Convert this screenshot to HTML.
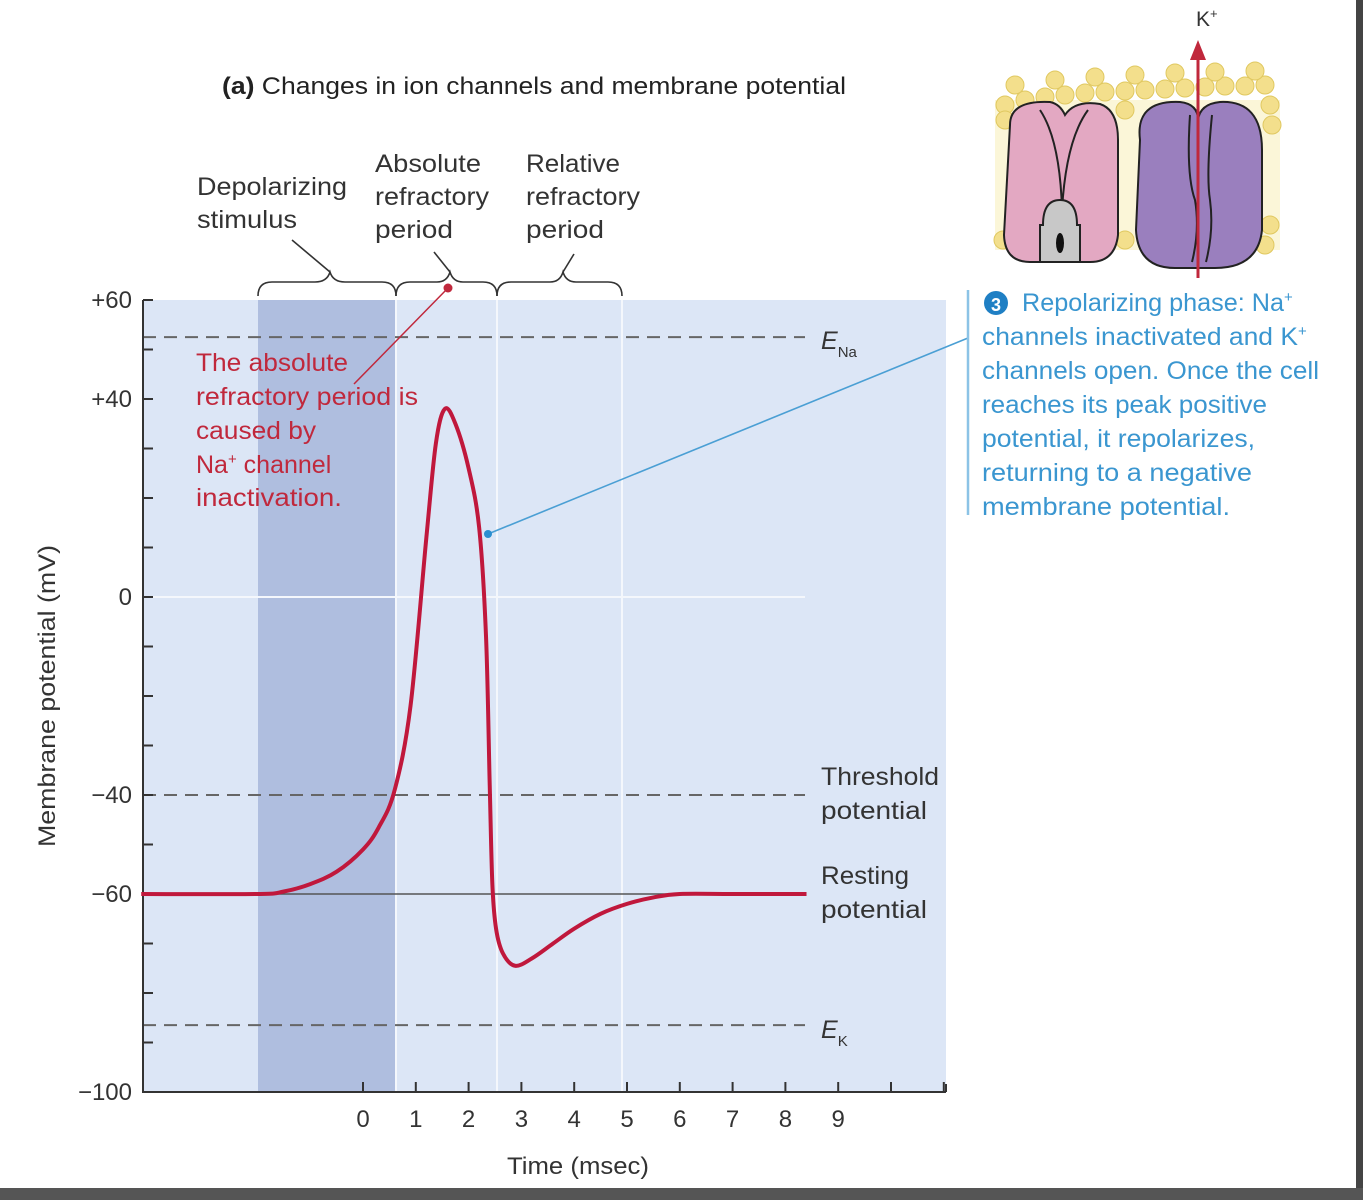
<!DOCTYPE html>
<html><head><meta charset="utf-8"><style>
html,body{margin:0;padding:0;background:#fff;}
svg{display:block;font-family:"Liberation Sans",sans-serif;}
</style></head><body>
<svg width="1363" height="1200" viewBox="0 0 1363 1200">
<rect x="0" y="0" width="1363" height="1200" fill="#fff"/>
<rect x="0" y="1188" width="1363" height="12" fill="#555"/>
<rect x="1356" y="0" width="7" height="1188" fill="#444"/>
<text x="222" y="94" font-size="24" fill="#222" textLength="624" lengthAdjust="spacingAndGlyphs"><tspan font-weight="bold">(a)</tspan> Changes in ion channels and membrane potential</text>
<g id="plot"></g>
<g id="ann">
 <g font-size="25" fill="#333">
  <text x="197" y="195"><tspan x="197" textLength="150" lengthAdjust="spacingAndGlyphs">Depolarizing</tspan><tspan x="197" dy="33" textLength="100" lengthAdjust="spacingAndGlyphs">stimulus</tspan></text>
  <text x="375" y="172"><tspan x="375" textLength="106" lengthAdjust="spacingAndGlyphs">Absolute</tspan><tspan x="375" dy="33" textLength="114" lengthAdjust="spacingAndGlyphs">refractory</tspan><tspan x="375" dy="33" textLength="78" lengthAdjust="spacingAndGlyphs">period</tspan></text>
  <text x="526" y="172"><tspan x="526" textLength="94" lengthAdjust="spacingAndGlyphs">Relative</tspan><tspan x="526" dy="33" textLength="114" lengthAdjust="spacingAndGlyphs">refractory</tspan><tspan x="526" dy="33" textLength="78" lengthAdjust="spacingAndGlyphs">period</tspan></text>
 </g>
 <g fill="none" stroke="#333" stroke-width="1.6">
  <path d="M258 296 Q258 282 272 282 L315 282 Q327 282 330 272 Q333 282 345 282 L382 282 Q396 282 396 296"/>
  <path d="M396 296 Q396 282 410 282 L437 282 Q447 282 450 272 Q453 282 463 282 L483 282 Q497 282 497 296"/>
  <path d="M497 296 Q497 282 511 282 L550 282 Q560 282 563 272 Q566 282 576 282 L608 282 Q622 282 622 296"/>
  <path d="M330 272 L292 240"/>
  <path d="M450 272 L434 252"/>
  <path d="M563 272 L574 254"/>
 </g>
 <g font-size="25" fill="#c0283c">
  <text x="196" y="371" textLength="152" lengthAdjust="spacingAndGlyphs">The absolute</text>
  <text x="196" y="405" textLength="222" lengthAdjust="spacingAndGlyphs">refractory period is</text>
  <text x="196" y="439" textLength="120" lengthAdjust="spacingAndGlyphs">caused by</text>
  <text x="196" y="473">Na<tspan font-size="15" dy="-9">+</tspan><tspan dy="9"> channel</tspan></text>
  <text x="196" y="506" textLength="146" lengthAdjust="spacingAndGlyphs">inactivation.</text>
 </g>
 <line x1="448" y1="288" x2="354" y2="384" stroke="#c0283c" stroke-width="1.5"/>
 <circle cx="448" cy="288" r="4.5" fill="#c0283c"/>
 <line x1="488" y1="534" x2="968" y2="338" stroke="#4a9fd4" stroke-width="1.6"/>
 <circle cx="488" cy="534" r="4" fill="#2a8fd0"/>
 <line x1="968" y1="290" x2="968" y2="515" stroke="#8cc3e6" stroke-width="2.5"/>
 <g font-size="25" fill="#3a96d0">
  <circle cx="996" cy="303" r="12" fill="#1f7fc4"/>
  <text x="996" y="311" font-size="18" font-weight="bold" fill="#fff" text-anchor="middle">3</text>
  <text x="1022" y="311"><tspan textLength="262" lengthAdjust="spacingAndGlyphs">Repolarizing phase: Na</tspan><tspan font-size="15" dy="-9">+</tspan></text>
  <text x="982" y="345"><tspan textLength="316" lengthAdjust="spacingAndGlyphs">channels inactivated and K</tspan><tspan font-size="15" dy="-9">+</tspan></text>
  <text x="982" y="379" textLength="337" lengthAdjust="spacingAndGlyphs">channels open. Once the cell</text>
  <text x="982" y="413" textLength="285" lengthAdjust="spacingAndGlyphs">reaches its peak positive</text>
  <text x="982" y="447" textLength="273" lengthAdjust="spacingAndGlyphs">potential, it repolarizes,</text>
  <text x="982" y="481" textLength="270" lengthAdjust="spacingAndGlyphs">returning to a negative</text>
  <text x="982" y="515" textLength="248" lengthAdjust="spacingAndGlyphs">membrane potential.</text>
 </g>
 <g>
  <rect x="995" y="100" width="285" height="150" fill="#fbf6d8"/>
  <g fill="#f3df8c" stroke="#e0c860" stroke-width="1">
   <circle cx="1005" cy="105" r="9"/><circle cx="1025" cy="100" r="9"/><circle cx="1045" cy="97" r="9"/><circle cx="1065" cy="95" r="9"/><circle cx="1085" cy="93" r="9"/><circle cx="1105" cy="92" r="9"/><circle cx="1125" cy="91" r="9"/><circle cx="1145" cy="90" r="9"/><circle cx="1165" cy="89" r="9"/><circle cx="1185" cy="88" r="9"/><circle cx="1205" cy="87" r="9"/><circle cx="1225" cy="86" r="9"/><circle cx="1245" cy="86" r="9"/><circle cx="1265" cy="85" r="9"/>
   <circle cx="1015" cy="85" r="9"/><circle cx="1055" cy="80" r="9"/><circle cx="1095" cy="77" r="9"/><circle cx="1135" cy="75" r="9"/><circle cx="1175" cy="73" r="9"/><circle cx="1215" cy="72" r="9"/><circle cx="1255" cy="71" r="9"/>
   <circle cx="1005" cy="120" r="9"/><circle cx="1125" cy="110" r="9"/><circle cx="1270" cy="105" r="9"/><circle cx="1272" cy="125" r="9"/>
   <circle cx="1003" cy="240" r="9"/><circle cx="1125" cy="240" r="9"/><circle cx="1270" cy="225" r="9"/><circle cx="1265" cy="245" r="9"/>
  </g>
  <path d="M1010 125 Q1010 100 1050 102 Q1060 104 1065 115 Q1075 100 1100 104 Q1118 110 1118 140 L1118 235 Q1115 262 1090 262 L1030 262 Q1005 262 1004 235 Z" fill="#e3a8c2" stroke="#222" stroke-width="2"/>
  <path d="M1040 110 Q1060 140 1062 210 M1088 110 Q1066 140 1062 210" fill="none" stroke="#222" stroke-width="2"/>
  <path d="M1043 225 Q1043 200 1060 200 Q1077 200 1077 225 L1080 225 L1080 262 L1040 262 L1040 225 Z" fill="#c8c8c8" stroke="#222" stroke-width="2"/>
  <ellipse cx="1060" cy="243" rx="4" ry="10" fill="#111"/>
  <path d="M1140 140 Q1135 100 1180 102 Q1198 104 1198 120 Q1200 104 1220 102 Q1262 100 1262 150 L1262 230 Q1258 268 1215 268 L1195 268 L1175 268 Q1138 268 1136 230 Z" fill="#9a7fbe" stroke="#222" stroke-width="2"/>
  <path d="M1190 115 Q1186 175 1195 200 Q1200 230 1192 262 M1212 115 Q1206 175 1210 200 Q1214 230 1206 262" fill="none" stroke="#222" stroke-width="2"/>
  <line x1="1198" y1="278" x2="1198" y2="52" stroke="#c0283c" stroke-width="3"/>
  <polygon points="1190,60 1198,40 1206,60" fill="#c0283c"/>
  <text x="1196" y="26" font-size="21" fill="#333">K<tspan font-size="13" dy="-8">+</tspan></text>
 </g>
</g>
</svg>
<script>
const categoriesTime = [-4.2,-2,-1.5,-1,-0.5,0,0.3,0.6,0.9,1.2,1.38,1.55,1.75,2.0,2.2,2.33,2.4,2.45,2.52,2.65,2.88,3.2,3.6,4.0,4.5,5.0,5.5,6.0,7.0,8.4];
const seriesPotential = [-60,-60,-59.5,-58,-55.5,-51,-46.5,-39,-22,12,31,38,35,26,14,-8,-38,-58,-67,-72,-74.5,-73,-70,-67,-64,-62,-60.7,-60,-60,-60];
const yTickLabels = ["+60","+40","0","\u221240","\u221260","\u2212100"];
const yTickValues = [60,40,0,-40,-60,-100];
const xTickLabels = ["0","1","2","3","4","5","6","7","8","9"];
const refLineNames = ["E_Na","threshold","resting","E_K"];
const refLineValues = [52.5,-40,-60,-86.5];
const NS="http://www.w3.org/2000/svg";
const X0=143,X1=946,Y0=300,Y1=1092;
function xs(t){return 363+t*52.8;}
function ys(v){return Y0+(60-v)*(Y1-Y0)/160;}
const g=document.getElementById('plot');
function mk(tag,attrs,parent){const e=document.createElementNS(NS,tag);for(const k in attrs)e.setAttribute(k,attrs[k]);(parent||g).appendChild(e);return e;}
let e;
e=mk('rect',{x:X0,y:Y0,width:X1-X0,height:Y1-Y0,fill:'#dce6f6'});


e=mk('rect',{x:258,y:Y0,width:138,height:Y1-Y0,fill:'#afbedf'});


[396,497,622].forEach(x=>{e=mk('line',{x1:x,y1:Y0,x2:x,y2:Y1,stroke:'#f4f7fc','stroke-width':2});

});
e=mk('line',{x1:153,y1:ys(0),x2:805,y2:ys(0),stroke:'#f4f7fc','stroke-width':2});


refLineNames.forEach((n,i)=>{const y=ys(refLineValues[i]);const solid=n==='resting';
e=mk('line',{x1:X0,y1:y,x2:805,y2:y,stroke:solid?'#555':'#666','stroke-width':solid?1.5:2,'stroke-dasharray':solid?'none':'13 8'});

});
e=mk('line',{x1:X0,y1:Y0,x2:X0,y2:Y1+1,stroke:'#333','stroke-width':2});


e=mk('line',{x1:X0,y1:Y1,x2:X1,y2:Y1,stroke:'#333','stroke-width':2});


e=mk('line',{x1:X1,y1:Y1,x2:X1,y2:Y1-8,stroke:'#333','stroke-width':2});
for(let v=60;v>=-100;v-=10){e=mk('line',{x1:X0,y1:ys(v),x2:X0+10,y2:ys(v),stroke:'#333','stroke-width':2});

}
yTickValues.forEach((v,i)=>{e=mk('text',{x:132,y:ys(v)+8,'font-size':24,fill:'#333','text-anchor':'end'});e.textContent=yTickLabels[i];

});
for(let t=0;t<=11;t++){e=mk('line',{x1:xs(t),y1:Y1,x2:xs(t),y2:Y1-10,stroke:'#333','stroke-width':2});

}
xTickLabels.forEach((l,i)=>{e=mk('text',{x:xs(+l),y:1127,'font-size':24,fill:'#333','text-anchor':'middle'});e.textContent=l;

});
e=mk('text',{x:578,y:1174,'font-size':24,fill:'#333','text-anchor':'middle',textLength:142,lengthAdjust:'spacingAndGlyphs'});e.textContent='Time (msec)';


e=mk('text',{x:0,y:0,'font-size':24,fill:'#333','text-anchor':'middle',textLength:302,lengthAdjust:'spacingAndGlyphs',transform:'translate(55,696) rotate(-90)'});e.textContent='Membrane potential (mV)';


function lab(txt,x,y,name){e=mk('text',{x:x,y:y,'font-size':25,fill:'#333'});e.innerHTML=txt;

}
lab('<tspan font-style="italic">E</tspan><tspan font-size="15" dy="8">Na</tspan>',821,349,'ena-label');
lab('<tspan font-style="italic">E</tspan><tspan font-size="15" dy="8">K</tspan>',821,1038,'ek-label');
lab('<tspan x="821" textLength="118" lengthAdjust="spacingAndGlyphs">Threshold</tspan><tspan x="821" dy="34" textLength="106" lengthAdjust="spacingAndGlyphs">potential</tspan>',821,785,'threshold-label');
lab('<tspan x="821" textLength="88" lengthAdjust="spacingAndGlyphs">Resting</tspan><tspan x="821" dy="34" textLength="106" lengthAdjust="spacingAndGlyphs">potential</tspan>',821,884,'resting-label');
const P=categoriesTime.map((t,i)=>[xs(t),ys(seriesPotential[i])]);
let d='M'+P[0][0]+' '+P[0][1];
for(let i=0;i<P.length-1;i++){const p0=P[Math.max(0,i-1)],p1=P[i],p2=P[i+1],p3=P[Math.min(P.length-1,i+2)];
const c1=[p1[0]+(p2[0]-p0[0])/6,p1[1]+(p2[1]-p0[1])/6],c2=[p2[0]-(p3[0]-p1[0])/6,p2[1]-(p3[1]-p1[1])/6];
d+=` C${c1[0]} ${c1[1]} ${c2[0]} ${c2[1]} ${p2[0]} ${p2[1]}`;}
e=mk('path',{d:d,fill:'none',stroke:'#c0183c','stroke-width':4,'stroke-linejoin':'round'});


</script>
</body></html>
